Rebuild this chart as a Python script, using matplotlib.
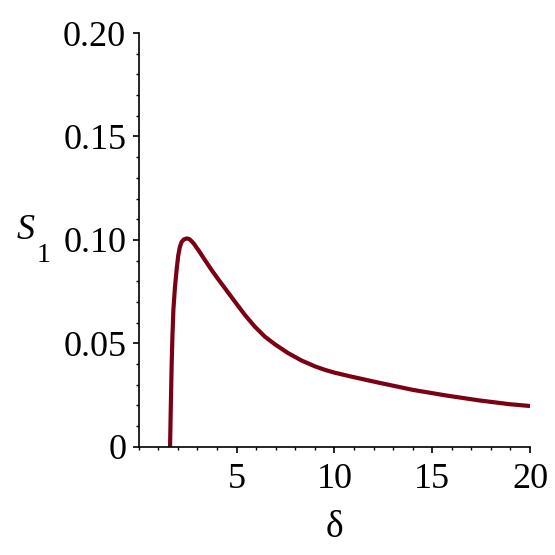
import numpy as np
import matplotlib
matplotlib.use("Agg")
import matplotlib.pyplot as plt
from matplotlib.ticker import MultipleLocator, FixedFormatter, FixedLocator

# values
delta = [1.60, 1.64, 1.68, 1.72, 1.77, 1.85, 1.94, 2.02, 2.10, 2.19, 2.30, 2.45,
         2.58, 2.70, 2.83, 2.96, 3.04, 3.38, 3.72, 4.06, 4.40, 4.91,
         5.42, 5.93, 6.44, 6.95, 7.63, 8.32, 9.00, 9.51, 10.02, 10.78,
         12.31, 14.01, 15.71, 17.41, 18.94, 20.0]
s1 = [0.0, 0.020, 0.0388, 0.053, 0.0662, 0.0770, 0.0860, 0.0925, 0.0965, 0.0990,
      0.1002, 0.1007, 0.1004, 0.0994, 0.0980, 0.0962, 0.0952, 0.0903, 0.0855,
      0.0810, 0.0767, 0.0702, 0.0638, 0.0581, 0.0533, 0.0496, 0.0453, 0.0417,
      0.0389, 0.0372, 0.0358, 0.0341,
      0.0309, 0.0275, 0.0248, 0.0224, 0.0206, 0.0197]

xticks = [5, 10, 15, 20]
yticks = [0, 0.05, 0.10, 0.15, 0.20]
ylabels = ["0", "0.05", "0.10", "0.15", "0.20"]

plt.rcParams['font.family'] = ['Liberation Serif', 'DejaVu Serif']

fig = plt.figure(figsize=(5.55, 5.55), dpi=100)
ax = fig.add_axes([0.25, 0.195, 0.705, 0.7455])

ax.plot(delta, s1, color='#7a0014', lw=3.0, solid_joinstyle='round', solid_capstyle='butt')

ax.set_xlim(0, 20)
ax.set_ylim(0, 0.2)
ax.spines['top'].set_visible(False)
ax.spines['right'].set_visible(False)
ax.spines['left'].set_linewidth(1.2)
ax.spines['bottom'].set_linewidth(1.2)

ax.xaxis.set_major_locator(FixedLocator(xticks))
ax.xaxis.set_minor_locator(MultipleLocator(1))
ax.yaxis.set_major_locator(FixedLocator(yticks))
ax.yaxis.set_major_formatter(FixedFormatter(ylabels))
ax.yaxis.set_minor_locator(MultipleLocator(0.01))
ax.tick_params(which='major', length=4, width=1.2, labelsize=26, direction='out')
ax.tick_params(which='minor', length=2.2, width=1.0, direction='out')
ax.tick_params(axis='x', which='major', pad=8)
ax.tick_params(axis='y', which='major', pad=5)

ax.set_xlabel('δ', fontsize=27, labelpad=10)
# y label: italic S with a lowered upright 1
fig.text(0.047, 0.585, 'S', fontsize=26, style='italic', ha='center', va='center')
fig.text(0.078, 0.539, '1', fontsize=20, ha='center', va='center')

fig.savefig('out.png', dpi=100)
